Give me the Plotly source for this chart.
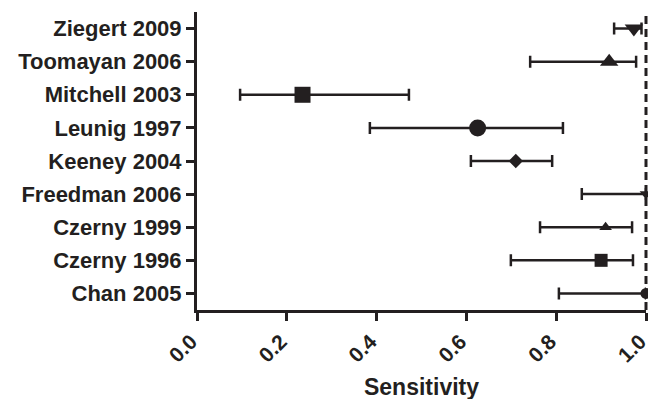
import plotly.graph_objects as go

studies = ["Chan 2005", "Czerny 1996", "Czerny 1999", "Freedman 2006", "Keeney 2004",
           "Leunig 1997", "Mitchell 2003", "Toomayan 2006", "Ziegert 2009"]
sensitivity = [1.00, 0.90, 0.91, 1.00, 0.71, 0.625, 0.235, 0.918, 0.973]
ci_low = [0.806, 0.699, 0.764, 0.857, 0.610, 0.385, 0.096, 0.742, 0.929]
ci_high = [1.00, 0.971, 0.969, 1.00, 0.791, 0.815, 0.472, 0.978, 0.99]
symbols = ["circle", "square", "triangle-up", "triangle-down", "diamond",
           "circle", "square", "triangle-up", "triangle-down"]
sizes = [11, 13, 11, 11, 11, 17, 16, 16, 16]
x_ticks = [0.0, 0.2, 0.4, 0.6, 0.8, 1.0]

ink = "#231f20"
font = "Liberation Sans, Arial, sans-serif"

plus = [h - s for h, s in zip(ci_high, sensitivity)]
minus = [s - l for s, l in zip(sensitivity, ci_low)]

fig = go.Figure()
fig.add_trace(go.Scatter(
    x=sensitivity, y=studies, mode="markers",
    marker=dict(symbol=symbols, size=sizes, color=ink, opacity=1, line=dict(width=0)),
    error_x=dict(type="data", symmetric=False, array=plus, arrayminus=minus,
                 color=ink, thickness=2.5, width=6),
    cliponaxis=False, showlegend=False,
))

fig.add_shape(type="line", xref="paper", yref="paper", x0=1.0, x1=1.0, y0=0, y1=1,
              line=dict(color=ink, width=3, dash="8px,5px"), layer="below")

fig.update_layout(
    width=656, height=399,
    margin=dict(l=189, r=18, t=4, b=97),
    paper_bgcolor="white", plot_bgcolor="white",
    font=dict(family=font, color=ink),
    xaxis=dict(range=[0, 1], tickvals=x_ticks, ticktext=[f"{v:.1f}" for v in x_ticks],
               tickangle=-45, ticks="outside", ticklen=8, tickwidth=2.5, tickcolor=ink,
               showline=True, linewidth=3, linecolor=ink, showgrid=False, zeroline=False,
               automargin=False, ticklabelshift=-6,
               tickfont=dict(size=21, family=font, weight="bold"),
               title=dict(text="<b>Sensitivity</b>", font=dict(size=23, family=font), standoff=14)),
    yaxis=dict(type="category", categoryorder="array", categoryarray=studies,
               range=[-0.5, 8.5], ticks="outside", ticklen=8, tickwidth=2.5, tickcolor=ink,
               showline=True, linewidth=3, linecolor=ink, showgrid=False, zeroline=False,
               automargin=False,
               tickfont=dict(size=22, family=font, weight="bold"), ticklabelstandoff=0),
)

fig.write_html("out.html")
